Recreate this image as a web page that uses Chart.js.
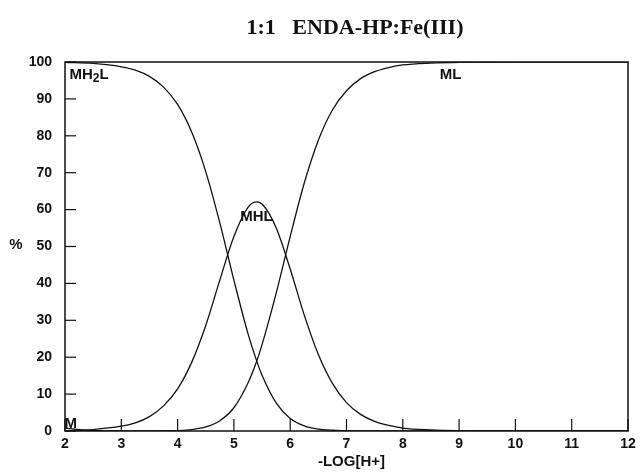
<!DOCTYPE html>
<html><head><meta charset="utf-8">
<script src="https://cdn.jsdelivr.net/npm/chart.js@4/dist/chart.umd.min.js"></script>
<style>html,body{margin:0;padding:0;background:#fff;}#wrap{width:641px;height:472px;position:relative;}</style>
</head><body><div id="wrap"><canvas id="c"></canvas></div>
<script>
const titleText = "1:1   ENDA-HP:Fe(III)";
const xTitle = "-LOG[H+]";
const yTitle = "%";
const pH = [2,2.5,3,3.25,3.5,3.75,4,4.25,4.5,4.75,5,5.25,5.4,5.5,5.75,6,6.25,6.5,6.75,7,7.25,7.5,7.75,8,8.5,9,10,11,12];
const MH2L = [99.9,99.6,98.7,97.8,96.1,93.2,88.5,81.0,70.3,56.4,40.9,26.4,19.2,15.1,7.6,3.4,1.4,0.5,0.2,0.1,0,0,0,0,0,0,0,0,0];
const MHL = [0.1,0.4,1.3,2.2,3.9,6.8,11.4,18.6,28.6,40.9,52.7,60.6,62.1,61.5,55.1,43.9,31.4,20.7,12.9,7.7,4.5,2.6,1.5,0.8,0.3,0.1,0,0,0];
const ML = [0,0,0,0,0,0.1,0.1,0.4,1.1,2.8,6.3,13.0,18.7,23.4,37.3,52.7,67.2,78.8,87.0,92.2,95.5,97.4,98.5,99.2,99.7,99.9,100,100,100];
const mPH = [2,2.25,2.5,3];
const M = [0.8,0.4,0.15,0];
const xTicks = [2,3,4,5,6,7,8,9,10,11,12];
const yTicks = [0,10,20,30,40,50,60,70,80,90,100];

const pts = (xs, ys) => xs.map((x,i)=>({x:x,y:ys[i]}));
const ds = (label, data) => ({label, data, borderColor:'#111', borderWidth:1.3, pointRadius:0, fill:false, cubicInterpolationMode:'monotone'});
const SANS = '"Liberation Sans", Arial, sans-serif';

const deco = {
  id:'deco',
  afterDraw(chart){
    const {ctx, chartArea:a, scales:{x,y}} = chart;
    ctx.save();
    ctx.strokeStyle='#111'; ctx.lineWidth=1.5;
    ctx.strokeRect(a.left, a.top, a.right-a.left, a.bottom-a.top);
    ctx.lineWidth=1.2;
    xTicks.forEach(v=>{const px=x.getPixelForValue(v); ctx.beginPath(); ctx.moveTo(px,a.bottom); ctx.lineTo(px,a.bottom-12); ctx.stroke();});
    yTicks.forEach(v=>{const py=y.getPixelForValue(v); ctx.beginPath(); ctx.moveTo(a.left,py); ctx.lineTo(a.left+11,py); ctx.stroke();});
    ctx.fillStyle='#111';
    ctx.font='bold 22px "Liberation Serif", "Times New Roman", serif';
    ctx.textAlign='center'; ctx.textBaseline='middle';
    ctx.fillText(titleText, 355, 28);
    ctx.font='bold 15px '+SANS;
    ctx.fillText(xTitle, (a.left+a.right)/2+5, 462);
    ctx.font='bold 15px '+SANS;
    ctx.fillText(yTitle, 16, 245);
    ctx.font='bold 15px '+SANS;
    ctx.textAlign='left';
    const lx = x.getPixelForValue(2.08), ly = y.getPixelForValue(96.5);
    ctx.fillText('MH', lx, ly);
    let w = ctx.measureText('MH').width;
    ctx.font='bold 12px '+SANS;
    ctx.fillText('2', lx+w, ly+4);
    let w2 = ctx.measureText('2').width;
    ctx.font='bold 15px '+SANS;
    ctx.fillText('L', lx+w+w2, ly);
    ctx.textAlign='center';
    ctx.fillText('MHL', x.getPixelForValue(5.4), y.getPixelForValue(58));
    ctx.fillText('ML', x.getPixelForValue(8.85), y.getPixelForValue(96.5));
    ctx.fillText('M', x.getPixelForValue(2.1), y.getPixelForValue(2));
    ctx.restore();
  }
};

new Chart(document.getElementById('c'), {
  type:'line',
  data:{datasets:[ds('MH2L',pts(pH,MH2L)), ds('MHL',pts(pH,MHL)), ds('ML',pts(pH,ML)), ds('M',pts(mPH,M))]},
  options:{
    responsive:true, maintainAspectRatio:false, animation:false,
    layout:{padding:{top:62,right:13,left:0,bottom:0}},
    plugins:{legend:{display:false}, tooltip:{enabled:false}},
    scales:{
      x:{type:'linear', min:2, max:12,
        afterBuildTicks(s){s.ticks = xTicks.map(v=>({value:v}));},
        afterFit(s){s.height = 41;},
        grid:{display:false, drawTicks:false}, border:{display:false},
        ticks:{color:'#111', padding:5, font:{family:SANS, weight:'bold', size:14}, maxRotation:0}},
      y:{min:0, max:100,
        afterBuildTicks(s){s.ticks = yTicks.map(v=>({value:v}));},
        afterFit(s){s.width = 65;},
        grid:{display:false, drawTicks:false}, border:{display:false},
        ticks:{color:'#111', padding:13, font:{family:SANS, weight:'bold', size:14}}}
    }
  },
  plugins:[deco]
});
</script></body></html>
